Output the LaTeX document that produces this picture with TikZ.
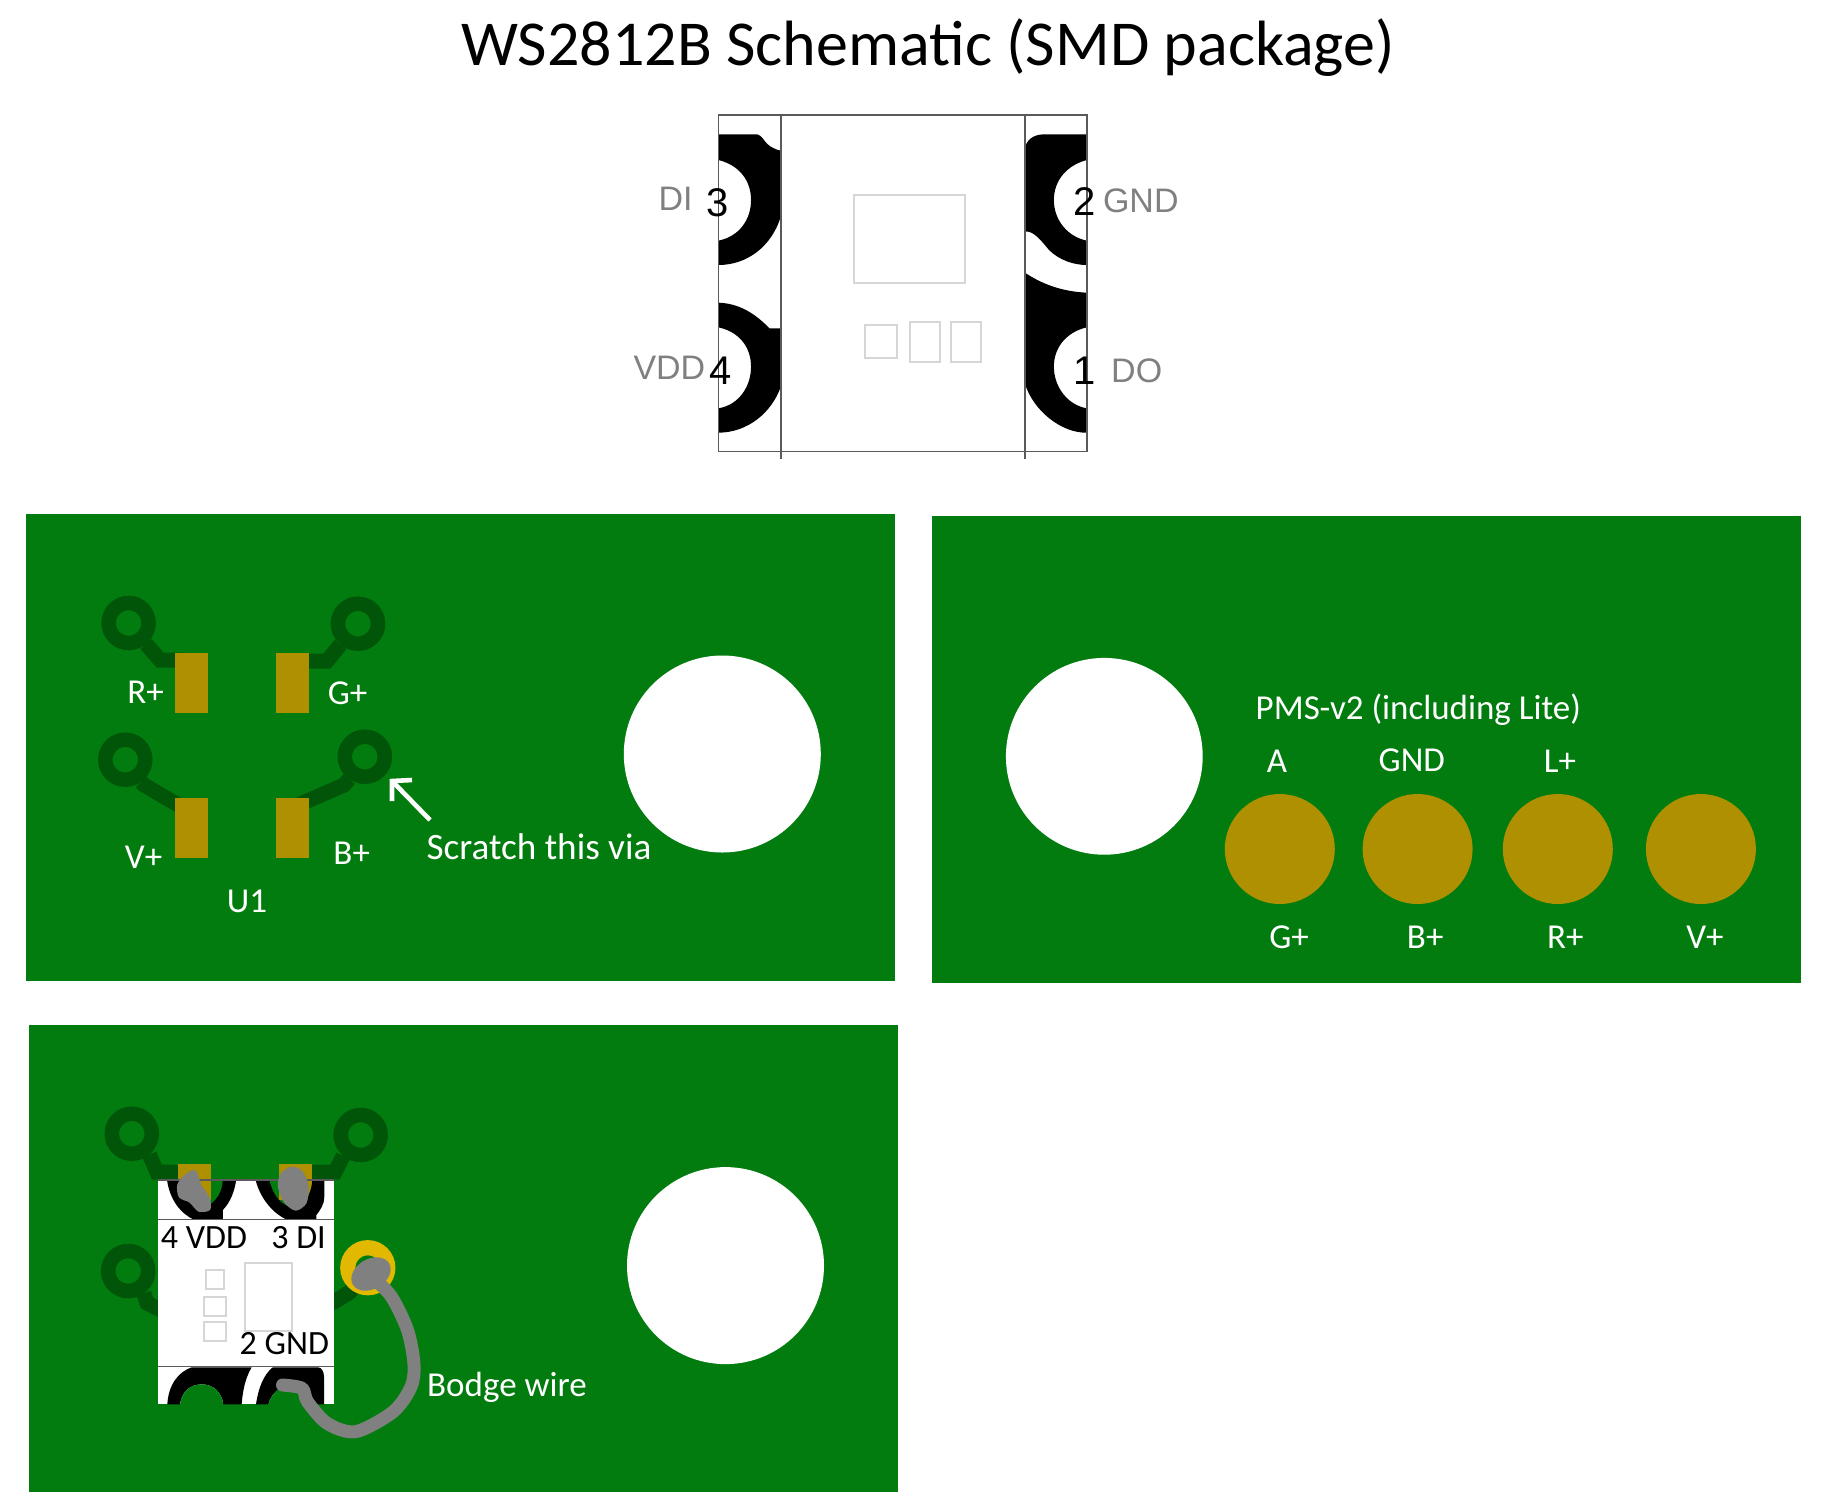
\documentclass[tikz,border=0pt]{standalone}
\usepackage{fontspec}
\setmainfont{Carlito}
\newfontfamily\pkgfont{Liberation Sans}
\definecolor{board}{RGB}{2,124,14}
\definecolor{darktrace}{RGB}{0,85,8}
\definecolor{padgold}{RGB}{174,144,0}
\definecolor{viagold}{RGB}{226,185,0}
\definecolor{wire}{RGB}{128,128,128}
\definecolor{pkgline}{RGB}{90,90,90}
\definecolor{faint}{RGB}{214,214,214}
\tikzset{
  lbl/.style={font=\fontsize{17.5}{20}\selectfont,text=white,inner sep=0pt,text height=11.3pt,text depth=0pt},
  chiplbl/.style={font=\fontsize{17}{20}\selectfont,text=black,inner sep=0pt,text height=10.9pt,text depth=0pt},
  pkglbl/.style={font=\pkgfont\fontsize{17}{20}\selectfont,text=black!50,inner sep=0pt,text height=12.2pt,text depth=0pt},
  pkgnum/.style={font=\pkgfont\fontsize{20}{24}\selectfont,text=black,inner sep=0pt,text height=14pt,text depth=0pt},
  via/.style={circle,draw=darktrace,line width=7.25pt,minimum size=20pt,inner sep=0pt},
  goldvia/.style={circle,draw=viagold,line width=7.6pt,minimum size=20pt,inner sep=0pt},
  trace/.style={draw=darktrace,line width=7.5pt},
  faintbox/.style={draw=faint,line width=1pt},
  pkgedge/.style={draw=pkgline,line width=0.8pt},
  wirepath/.style={draw=wire,line width=6.5pt,line cap=round,line join=round},
  arrowline/.style={draw=white,line width=2.3pt}
}
\begin{document}
\begin{tikzpicture}[x=0.5pt,y=-0.5pt]
\useasboundingbox (0,0) rectangle (1846,1506);
\fill[white] (0,0) rectangle (1846,1506);

\node[font=\fontsize{32}{38}\selectfont,inner sep=0pt,text height=20.6pt,text depth=0pt] (title) at (928,45) {WS2812B Schematic (SMD package)};

% --- package drawing ---
\begin{scope}[shift={(600,90)},xscale=0.40816,yscale=0.33333]
\fill[black] (290,133) -- (385,133) .. controls (405,140) and (400,170) .. (443,182) -- (443,380)
  .. controls (420,470) and (360,525) .. (290,525) -- (290,452)
  .. controls (340,440) and (370,390) .. (370,330) .. controls (370,270) and (340,225) .. (290,210) -- cycle;
\fill[black] (290,638) .. controls (340,640) and (380,670) .. (415,715) -- (443,715) -- (443,890)
  .. controls (420,970) and (360,1028) .. (290,1028) -- (290,955)
  .. controls (340,945) and (370,890) .. (370,830) .. controls (370,770) and (340,725) .. (290,712) -- cycle;
\fill[black] (1193,133) -- (1085,133) .. controls (1060,135) and (1045,150) .. (1041,175) -- (1041,425)
  .. controls (1060,420) and (1080,450) .. (1100,480) .. controls (1125,510) and (1160,525) .. (1193,525) -- (1193,452)
  .. controls (1145,440) and (1112,390) .. (1112,330) .. controls (1112,270) and (1145,225) .. (1193,210) -- cycle;
\fill[black] (1041,548) .. controls (1080,580) and (1130,605) .. (1193,608) -- (1193,712)
  .. controls (1145,725) and (1112,770) .. (1112,830) .. controls (1112,890) and (1145,945) .. (1193,955) -- (1193,1028)
  .. controls (1130,1030) and (1060,960) .. (1041,880) -- cycle;
\draw[pkgedge] (290,75) rectangle (1193,1085);
\draw[pkgedge] (443,75) -- (443,1108);
\draw[pkgedge] (1041,75) -- (1041,1108);
\draw[faintbox] (622,316) rectangle (895,580);
\draw[faintbox] (650,705) rectangle (727,803);
\draw[faintbox] (759,697) rectangle (833,817);
\draw[faintbox] (860,697) rectangle (934,817);
\node[pkglbl] (pdi) at (185,325) {DI};
\node[pkglbl] (pvdd) at (170,832) {VDD};
\node[pkglbl] (pgnd) at (1325,332) {GND};
\node[pkglbl] (pdo) at (1315,840) {DO};
\node[pkgnum] (n3) at (288,337) {3};
\node[pkgnum] (n4) at (296,840) {4};
\node[pkgnum] (n2) at (1188,335) {2};
\node[pkgnum] (n1) at (1187,842) {1};
\end{scope}

% --- panel 1 ---
\fill[board] (26,514) rectangle (895,981);
\fill[white] (722.3,754) circle (98.5);
\node[via] (v1) at (128.6,623) {};
\node[via] (v2) at (358,623.7) {};
\node[via] (v3) at (125.3,759.7) {};
\node[via] (v4) at (364.8,756.7) {};
\draw[trace] (v1.-50) -- (160,660) -- (185,660);
\draw[trace] (v2.-130) -- (327,661) -- (300,661);
\draw[trace] (v3.-55) -- (144,785) -- (180,806);
\draw[trace] (v4.-125) -- (344,785) -- (298,805);
\fill[padgold] (175,653.3) rectangle (207.7,713.3);
\fill[padgold] (276,653.3) rectangle (308.5,713.3);
\fill[padgold] (175,798.3) rectangle (207.7,858.3);
\fill[padgold] (276,798.3) rectangle (308.5,858.3);
\node[lbl] (a1) at (145.7,691.7) {R+};
\node[lbl] (a2) at (347.6,693) {G+};
\node[lbl] (a3) at (143.6,857.5) {V+};
\node[lbl] (a4) at (351.7,853.5) {B+};
\node[lbl] (a5) at (246.9,901) {U1};
\node[lbl,font=\fontsize{18.6}{22}\selectfont,text height=12pt] (a6) at (539,847) {Scratch this via};
\coordinate (tip) at (393,782);
\coordinate (tail) at (430,820);
\draw[arrowline] (tail) -- (tip);
\draw[arrowline] (392,801) -- (392,781) -- (412,780);

% --- panel 2 ---
\fill[board] (932,516) rectangle (1801,983);
\fill[white] (1104.3,756.3) circle (98.4);
\fill[padgold] (1279.8,849) circle (55);
\fill[padgold] (1417.6,849) circle (55);
\fill[padgold] (1557.8,849) circle (55);
\fill[padgold] (1700.9,849) circle (55);
\node[lbl] (b0) at (1418.4,708) {PMS-v2 (including Lite)};
\node[lbl] (b1) at (1276.9,760.7) {A};
\node[lbl] (b2) at (1411.8,760) {GND};
\node[lbl] (b3) at (1560,760.7) {L+};
\node[lbl] (b4) at (1289,936.7) {G+};
\node[lbl] (b5) at (1425.2,936.7) {B+};
\node[lbl] (b6) at (1565.4,936.7) {R+};
\node[lbl] (b7) at (1705,936.7) {V+};

% --- panel 3 ---
\fill[board] (29,1025) rectangle (898,1492);
\fill[white] (725.5,1265.6) circle (98.5);
\node[via] (c1) at (131.8,1133.7) {};
\node[via] (c2) at (360.7,1135) {};
\node[via] (c3) at (128.2,1271) {};
\draw[trace] (c1.-50) -- (157,1172) -- (185,1172);
\draw[trace] (c2.-130) -- (335,1172) -- (305,1172);
\draw[trace] (c3.-55) -- (147,1303) -- (180,1320);
\coordinate (gv) at (367.8,1267.7);
\draw[trace] (gv) -- (350,1292) -- (334,1302) -- (300,1310);
\node[goldvia] (c4) at (gv) {};
\fill[padgold] (177.9,1164) rectangle (211,1182);
\fill[padgold] (279,1164) rectangle (311.8,1182);
\begin{scope}[shift={(70,1090)},xscale=0.35714,yscale=0.33333]
\fill[white] (245,270) rectangle (740,943);
% top pads
\fill[black] (272,272) .. controls (280,330) and (310,370) .. (345,388) -- (428,388) -- (428,360)
  .. controls (450,335) and (460,305) .. (465,272) -- cycle;
\fill[black] (520,272) .. controls (535,330) and (570,370) .. (605,388) -- (690,388) -- (690,375)
  .. controls (700,360) and (712,345) .. (712,320) -- (712,272) -- cycle;
\fill[board] (310,270) .. controls (315,320) and (340,350) .. (368,350) .. controls (395,350) and (425,320) .. (428,270) -- cycle;
\fill[board] (558,270) .. controls (570,320) and (595,350) .. (625,350) .. controls (650,350) and (675,320) .. (678,270) -- cycle;
\begin{scope}
\clip (310,270) .. controls (315,320) and (340,350) .. (368,350) .. controls (395,350) and (425,320) .. (428,270) -- cycle;
\fill[padgold] (302,260) rectangle (395,330);
\end{scope}
\begin{scope}
\clip (558,270) .. controls (570,320) and (595,350) .. (625,350) .. controls (650,350) and (675,320) .. (678,270) -- cycle;
\fill[padgold] (585,260) rectangle (677,330);
\end{scope}
\draw[pkgedge,line width=0.6pt] (245,270) -- (740,270);
\draw[pkgedge,line width=0.7pt] (245,388) -- (740,388);
\draw[pkgedge,line width=0.7pt] (245,830) -- (740,830);
\draw[faintbox] (491,520) rectangle (622,722);
\draw[faintbox] (382,541) rectangle (431,598);
\draw[faintbox] (376,622) rectangle (436,677);
\draw[faintbox] (376,697) rectangle (436,752);
% solder blobs
\fill[wire] plot[smooth cycle] coordinates {(318,258) (350,240) (368,285) (392,325) (392,360) (360,365) (335,338) (305,322) (300,285)};
\fill[wire] plot[smooth cycle] coordinates {(590,250) (622,230) (652,245) (668,290) (662,340) (632,362) (600,338) (582,290)};
\end{scope}
\begin{scope}[shift={(150,1355)},scale=0.33333]
\fill[black] (52,148) .. controls (55,90) and (85,50) .. (125,37) -- (305,37)
  .. controls (285,70) and (278,110) .. (275,148) -- (220,148)
  .. controls (215,110) and (190,88) .. (155,88) .. controls (120,88) and (95,110) .. (90,148) -- cycle;
\fill[board] (90,149) .. controls (95,110) and (120,88) .. (155,88) .. controls (190,88) and (215,110) .. (220,149) -- cycle;
\fill[black] (318,148) .. controls (325,100) and (340,60) .. (368,37) -- (505,37)
  .. controls (515,38) and (522,50) .. (522,65) -- (522,148) -- (490,148)
  .. controls (485,120) and (470,100) .. (430,85) .. controls (400,85) and (365,110) .. (355,148) -- cycle;
\fill[board] (355,149) .. controls (365,110) and (400,85) .. (430,85) .. controls (470,100) and (485,120) .. (490,149) -- cycle;
\end{scope}
\node[chiplbl] (d1) at (204,1237.3) {4 VDD};
\node[chiplbl] (d2) at (298.6,1237.3) {3 DI};
\node[chiplbl] (d3) at (284.3,1343.3) {2 GND};
\node[lbl] (d4) at (507,1385) {Bodge wire};
\fill[wire,rotate around={30:(371,1274)}] (371,1274) ellipse (21 and 15);
\begin{scope}[shift={(70,1090)},xscale=0.35714,yscale=0.33333]
\draw[wirepath] plot[smooth] coordinates {(850,565) (900,620) (945,720) (963,820) (955,890) (905,965) (800,1025) (720,1000) (665,935) (650,895) (595,885)};
\end{scope}
\end{tikzpicture}
\end{document}
